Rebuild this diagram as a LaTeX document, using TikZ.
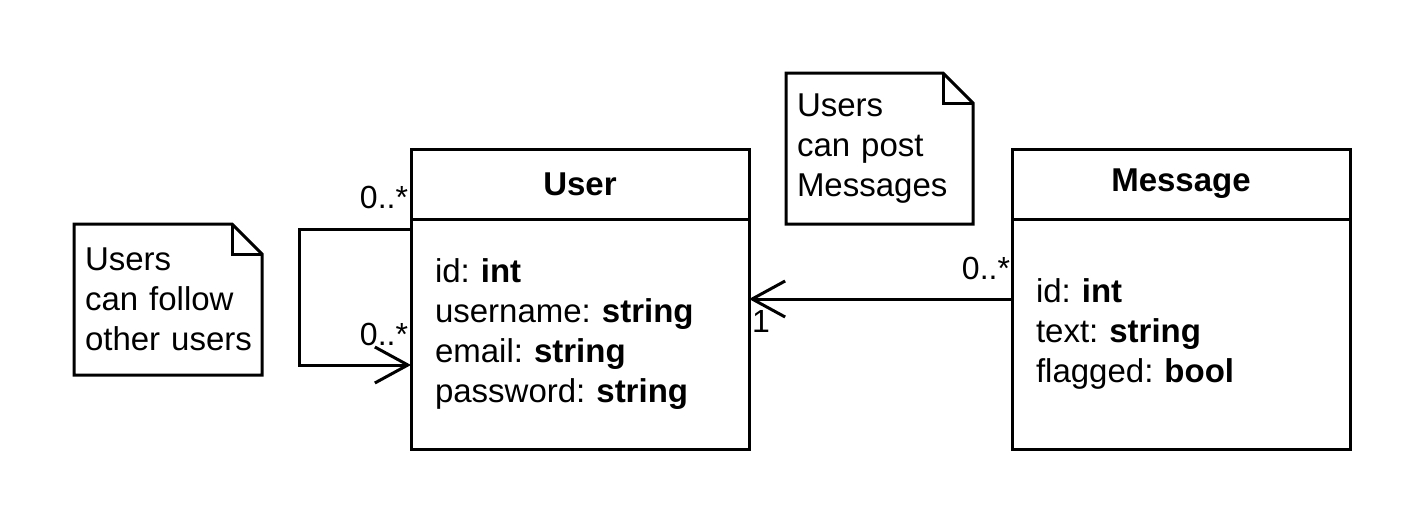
\documentclass[tikz,border=0pt]{standalone}
\usepackage{fontspec}
\setmainfont{Liberation Sans}
\usetikzlibrary{arrows.meta, positioning}
\frenchspacing

\begin{document}
\begin{tikzpicture}[x=1pt, y=-1pt, line width=3pt,
  every node/.style={outer sep=0pt, font=\fontsize{33}{40}\selectfont},
  classhead/.style={draw, minimum width=338pt, minimum height=70pt, font=\fontsize{33}{40}\selectfont\bfseries},
  classbody/.style={draw, minimum height=230pt, text width=290pt, inner xsep=24pt, align=left},
  note/.style={minimum width=188pt, minimum height=151pt, text width=166pt, inner xsep=11pt, align=left},
  mult/.style={font=\fontsize{32}{36}\selectfont, inner sep=0pt},
  assoc/.style={-{Straight Barb[length=33pt, width=36pt]}}]
  \useasboundingbox (0,0) rectangle (1425,525);

  % classes
  \node (user) [classhead, anchor=north west] at (411,149) {User};
  \node (userattr) [classbody, below=0pt of user] {id: \textbf{int}\\username: \textbf{string}\\email: \textbf{string}\\password: \textbf{string}};
  \node (msg) [classhead, anchor=north west] at (1012,149) {Message};
  \node (msgattr) [classbody, below=0pt of msg] {id: \textbf{int}\\text: \textbf{string}\\flagged: \textbf{bool}};

  % notes
  \node (follownote) [note] at (168,299.5) {Users\\can follow\\other~users};
  \draw (follownote.north west) -- ([xshift=-30pt]follownote.north east) -- ([yshift=-30pt]follownote.north east) -- (follownote.south east) -- (follownote.south west) -- cycle;
  \draw ([xshift=-30pt]follownote.north east) |- ([yshift=-30pt]follownote.north east);
  \node (postnote) [note, minimum width=187pt, text width=165pt] at (879.5,148.5) {Users\\can post\\Messages};
  \draw (postnote.north west) -- ([xshift=-30pt]postnote.north east) -- ([yshift=-30pt]postnote.north east) -- (postnote.south east) -- (postnote.south west) -- cycle;
  \draw ([xshift=-30pt]postnote.north east) |- ([yshift=-30pt]postnote.north east);

  % associations
  \draw[assoc] ([yshift=-10pt]userattr.north west)
      node[mult, anchor=base east, xshift=-3pt, yshift=21pt] {0..*}
    -- ++(-112,0) |- ([yshift=-146pt]userattr.north west)
      node[mult, anchor=base east, xshift=-3pt, yshift=20pt] {0..*};
  \draw[assoc] ([yshift=35pt]msgattr.west)
      node[mult, anchor=base east, xshift=-2pt, yshift=20pt] {0..*}
    -- ([yshift=35pt]userattr.east)
      node[mult, anchor=base west, xshift=3pt, yshift=-33pt] {1};
\end{tikzpicture}
\end{document}
